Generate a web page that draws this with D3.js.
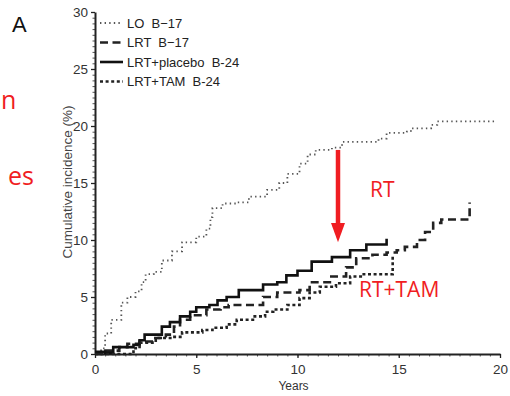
<!DOCTYPE html>
<html>
<head>
<meta charset="utf-8">
<script src="https://cdnjs.cloudflare.com/ajax/libs/d3/7.8.5/d3.min.js"></script>
<style>
  body { margin: 0; background: #fff; }
  svg { display: block; font-family: "Liberation Sans", Arial, sans-serif; }
</style>
</head>
<body>
<div id="chart"></div>
<script>
// cumulative incidence (%) by years
const loB17 = [[0,0],[0.3,0.5],[0.5,1.8],[0.8,3],[1.3,4.5],[1.6,5],[2,5.5],[2.3,6.3],[2.5,7.0],[2.9,7.2],
  [3.3,8.2],[3.8,9.0],[4.3,9.8],[5.0,10.3],[5.5,11.0],[5.7,12.0],[5.8,12.8],[6.3,13.2],[7.0,13.3],[7.6,13.8],
  [8.5,14.4],[9.1,15.0],[9.5,15.8],[10.1,16.7],[10.5,17.5],[10.9,17.9],[11.7,18.1],[12.2,18.6],[13.3,18.6],
  [14.0,18.9],[14.4,19.4],[15.4,19.5],[15.6,19.8],[16.4,19.8],[16.6,20.1],[16.9,20.4],[19.8,20.4]];
const lrtB17 = [[0,0],[0.3,0.3],[1.2,0.6],[1.6,0.9],[2.2,1.1],[2.8,1.4],[3.5,1.7],[3.9,2.4],[4.2,3.0],[4.7,3.4],
  [5.5,3.9],[6.2,4.1],[6.6,4.3],[8.3,5.0],[9.0,5.4],[10.1,5.6],[10.6,6.3],[11.6,6.8],[12.4,7.6],[12.9,8.4],
  [13.7,8.7],[14.4,8.9],[14.9,9.1],[15.3,9.4],[15.9,10.0],[16.3,10.7],[16.7,11.5],[17.1,11.8],[18.5,12.6],[18.5,13.3]];
const placeboB24 = [[0,0.2],[0.5,0.1],[0.9,0.6],[1.9,0.8],[2.2,1.2],[2.45,1.7],[3.3,2.4],[3.7,2.8],[4.2,3.3],
  [4.7,3.7],[5.0,4.1],[5.65,4.3],[6.05,4.7],[6.5,5.0],[7.1,5.6],[8.3,6.1],[9.0,6.3],[9.45,6.9],[10.0,7.3],
  [10.7,8.1],[11.7,8.5],[12.6,9.1],[13.4,9.6],[14.4,10.1]];
const tamB24 = [[0,0],[1.4,0],[1.9,0.5],[2.2,1.0],[3.0,1.4],[3.85,1.5],[4.3,1.9],[5.3,2.1],[5.8,2.3],[6.5,2.6],
  [7.0,3.0],[7.8,3.3],[8.4,3.7],[8.8,3.9],[9.5,4.3],[10.1,4.9],[10.6,5.4],[11.1,5.9],[11.9,6.2],[12.6,6.8],
  [13.2,7.0],[14.7,7.1],[14.7,8.7]];

const seriesNames = ["LO  B\u221217", "LRT  B\u221217", "LRT+placebo  B-24", "LRT+TAM  B-24"];
const xTicks = [0, 5, 10, 15, 20];
const yTicks = [0, 5, 10, 15, 20, 25, 30];

const width = 510, height = 396;
const mLeft = 95, mRight = 500, mTop = 12, mBottom = 354;

const svg = d3.select("#chart").append("svg")
  .attr("width", width)
  .attr("height", height);

const x = d3.scaleLinear().domain([0, 20]).range([mLeft, mRight]);
const y = d3.scaleLinear().domain([0, 30]).range([mBottom, mTop]);

// minor ticks
svg.append("g")
  .attr("transform", `translate(0,${mBottom})`)
  .call(d3.axisBottom(x).tickValues(d3.range(0, 20.01, 0.5)).tickSize(2.5).tickFormat(""))
  .call(g => g.select(".domain").remove())
  .selectAll("line").attr("stroke", "#555");
svg.append("g")
  .attr("transform", `translate(${mLeft},0)`)
  .call(d3.axisLeft(y).tickValues(d3.range(0, 30.01, 0.5)).tickSize(2.5).tickFormat(""))
  .call(g => g.select(".domain").remove())
  .selectAll("line").attr("stroke", "#555");

const xAxis = svg.append("g")
  .attr("transform", `translate(0,${mBottom})`)
  .call(d3.axisBottom(x).tickValues(xTicks).tickSize(4).tickSizeOuter(0).tickPadding(6));
const yAxis = svg.append("g")
  .attr("transform", `translate(${mLeft},0)`)
  .call(d3.axisLeft(y).tickValues(yTicks).tickSize(4).tickSizeOuter(0).tickPadding(3));

[xAxis, yAxis].forEach(g => {
  g.select(".domain").attr("stroke", "#222").attr("stroke-width", 2);
  g.selectAll(".tick line").attr("stroke", "#222").attr("stroke-width", 1.3);
  g.selectAll(".tick text")
    .attr("fill", "#333")
    .style("font-size", "13.5px")
    .style("font-family", "Liberation Sans, Arial, sans-serif");
});

svg.append("text")
  .attr("x", (mLeft + mRight) / 2 - 4)
  .attr("y", 390)
  .attr("text-anchor", "middle")
  .attr("fill", "#333")
  .style("font-size", "12px")
  .text("Years");

svg.append("text")
  .attr("transform", "rotate(-90)")
  .attr("x", -182)
  .attr("y", 72)
  .attr("text-anchor", "middle")
  .attr("fill", "#444")
  .style("font-size", "13.5px")
  .text("Cumulative incidence (%)");

const styles = [
  { data: loB17, stroke: "#555", width: 1.8, dash: "1.4,3.2" },
  { data: lrtB17, stroke: "#222", width: 2.6, dash: "8,4.5" },
  { data: placeboB24, stroke: "#111", width: 2.6, dash: null },
  { data: tamB24, stroke: "#222", width: 2.6, dash: "3,2.6" }
];

const line = d3.line()
  .x(d => x(d[0]))
  .y(d => y(d[1]))
  .curve(d3.curveStepAfter);

svg.selectAll("path.series")
  .data(styles)
  .join("path")
  .attr("class", "series")
  .attr("d", d => line(d.data))
  .attr("fill", "none")
  .attr("stroke", d => d.stroke)
  .attr("stroke-width", d => d.width)
  .attr("stroke-dasharray", d => d.dash);

// legend
const legend = svg.append("g").attr("transform", "translate(100,23)");
const rows = legend.selectAll("g")
  .data(styles)
  .join("g")
  .attr("transform", (d, i) => `translate(0,${i * 19.5})`);
rows.append("line")
  .attr("x1", 0).attr("x2", 23)
  .attr("stroke", d => d.stroke)
  .attr("stroke-width", d => d.width)
  .attr("stroke-dasharray", d => d.dash);
rows.append("text")
  .attr("x", 27)
  .attr("dy", "0.36em")
  .attr("fill", "#222")
  .style("font-size", "13px")
  .style("white-space", "pre")
  .text((d, i) => seriesNames[i]);

// panel letter and red annotations
svg.append("text")
  .attr("x", 12).attr("y", 32)
  .style("font-size", "22px")
  .attr("fill", "#111")
  .text("A");

const red = "#f01d22";
svg.append("text")
  .attr("x", 1).attr("y", 109)
  .style("font-family", "Open Sans, sans-serif")
  .style("font-size", "25px")
  .attr("fill", red)
  .text("n");
svg.append("text")
  .attr("x", 8).attr("y", 185)
  .style("font-family", "Open Sans, sans-serif")
  .style("font-size", "25px")
  .attr("fill", red)
  .text("es");

svg.append("line")
  .attr("x1", x(12)).attr("x2", x(12))
  .attr("y1", y(17.9)).attr("y2", y(11.3))
  .attr("stroke", red)
  .attr("stroke-width", 4.5);
svg.append("path")
  .attr("d", `M${x(12) - 7},${y(11.5)} L${x(12) + 7},${y(11.5)} L${x(12)},${y(9.8)} Z`)
  .attr("fill", red);

svg.append("text")
  .attr("x", 370).attr("y", 197)
  .style("font-family", "Open Sans, sans-serif")
  .style("font-size", "21px")
  .attr("fill", red)
  .text("RT");
svg.append("text")
  .attr("x", 359).attr("y", 297)
  .style("font-family", "Open Sans, sans-serif")
  .style("font-size", "21px")
  .attr("fill", red)
  .text("RT+TAM");
</script>
</body>
</html>
